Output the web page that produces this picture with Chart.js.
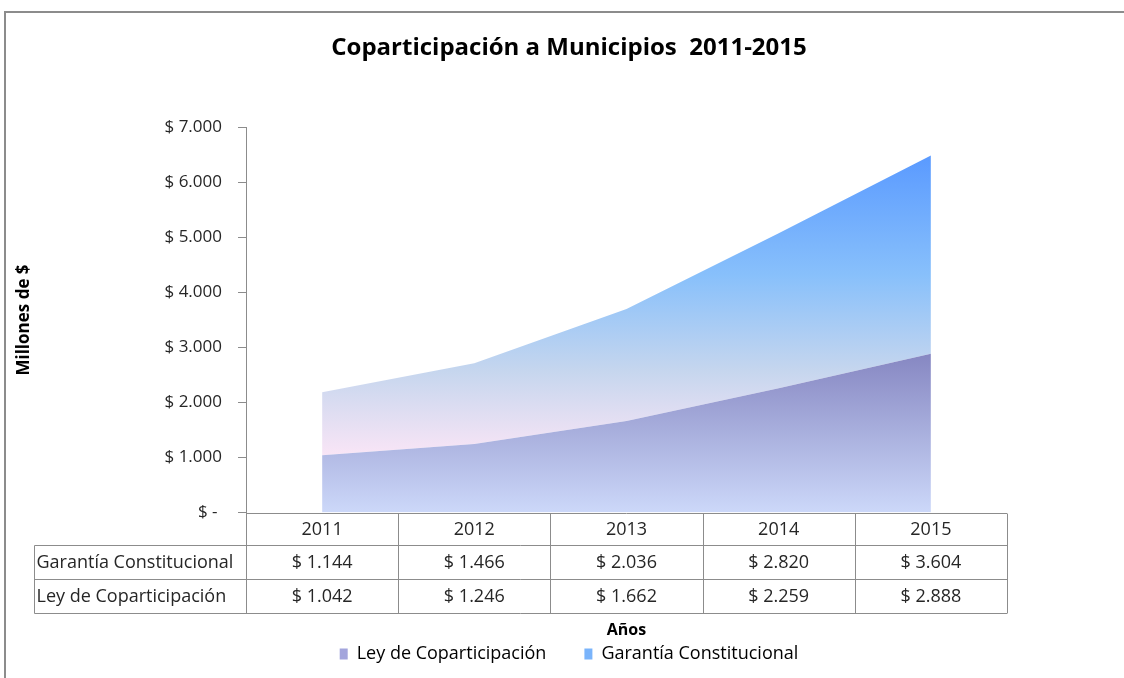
<!DOCTYPE html>
<html>
<head>
<meta charset="utf-8">
<title>Coparticipación a Municipios 2011-2015</title>
<script src="https://cdn.jsdelivr.net/npm/chart.js@4.4.1/dist/chart.umd.min.js"></script>
<style>
  html, body { margin: 0; padding: 0; background: #fff; }
  #wrap { width: 1124px; height: 678px; }
</style>
</head>
<body>
<div id="wrap"><canvas id="chart" width="1124" height="678"></canvas></div>
<script>
// datos (millones de $)
const years = ["2011", "2012", "2013", "2014", "2015"];
const leyCoparticipacion = [1042, 1246, 1662, 2259, 2888];
const garantiaConstitucional = [1144, 1466, 2036, 2820, 3604];
const yMax = 7000;
const yStep = 1000;

const GRID = "#8c8c8c";
const TEXT = "#262626";

// "$ 1.234"
const fmt = (v) => "$ " + String(v).replace(/\B(?=(\d{3})+(?!\d))/g, ".");

// degradados tipo Excel, calculados con la escala
const leyFill = (c) => {
  const { chart } = c;
  if (!chart.chartArea) return "#a3a5dc";
  const y = chart.scales.y;
  const g = chart.ctx.createLinearGradient(0, y.getPixelForValue(Math.max(...leyCoparticipacion)), 0, y.getPixelForValue(0));
  g.addColorStop(0, "#8687c2");
  g.addColorStop(1, "#ccd8f9");
  return g;
};

const garantiaFill = (c) => {
  const { chart } = c;
  if (!chart.chartArea) return "#7ab4fb";
  const y = chart.scales.y;
  const totals = leyCoparticipacion.map((v, i) => v + garantiaConstitucional[i]);
  const g = chart.ctx.createLinearGradient(0, y.getPixelForValue(Math.max(...totals)), 0, y.getPixelForValue(Math.min(...leyCoparticipacion)));
  g.addColorStop(0, "#5a9aff");
  g.addColorStop(0.4, "#88c0fb");
  g.addColorStop(0.72, "#c6d6ee");
  g.addColorStop(1, "#f9e5f6");
  return g;
};

// marco del grafico
const framePlugin = {
  id: "frame",
  beforeDraw(chart) {
    const ctx = chart.ctx;
    ctx.save();
    ctx.strokeStyle = GRID;
    ctx.lineWidth = 2;
    ctx.beginPath();
    ctx.moveTo(5, 700);
    ctx.lineTo(5, 12);
    ctx.lineTo(1130, 12);
    ctx.stroke();
    ctx.restore();
  }
};

// tabla de datos debajo del eje x
const tablePlugin = {
  id: "dataTable",
  afterDraw(chart) {
    const { ctx, chartArea } = chart;
    const x = chart.scales.x;
    const step = (x.right - x.left) / years.length;
    const top = Math.round(chartArea.bottom) + 0.5;
    const r = [top, top + 32, top + 66, top + 100];
    const labelLeft = 34.5;
    const rows = [
      { name: "Garantía Constitucional", values: garantiaConstitucional },
      { name: "Ley de Coparticipación", values: leyCoparticipacion }
    ];

    ctx.save();
    ctx.strokeStyle = GRID;
    ctx.lineWidth = 1;
    ctx.beginPath();
    ctx.moveTo(x.left, r[0]); ctx.lineTo(x.right, r[0]);
    for (let i = 1; i < r.length; i++) {
      ctx.moveTo(labelLeft, r[i]); ctx.lineTo(x.right, r[i]);
    }
    for (let i = 0; i <= years.length; i++) {
      const px = Math.round(x.left + i * step) + 0.5;
      ctx.moveTo(px, r[0]); ctx.lineTo(px, r[3]);
    }
    ctx.moveTo(labelLeft, r[1]); ctx.lineTo(labelLeft, r[3]);
    ctx.stroke();

    ctx.fillStyle = TEXT;
    ctx.font = "18px 'Open Sans', sans-serif";
    ctx.textBaseline = "middle";
    ctx.textAlign = "center";
    years.forEach((yr, i) => {
      ctx.fillText(yr, x.getPixelForValue(i), (r[0] + r[1]) / 2);
    });
    rows.forEach((row, k) => {
      const cy = (r[k + 1] + r[k + 2]) / 2;
      ctx.textAlign = "left";
      ctx.fillText(row.name, labelLeft + 2, cy);
      ctx.textAlign = "center";
      row.values.forEach((v, i) => ctx.fillText(fmt(v), x.getPixelForValue(i), cy));
    });
    ctx.restore();
  }
};

Chart.defaults.font.family = "'Open Sans', sans-serif";
Chart.defaults.color = TEXT;

new Chart(document.getElementById("chart"), {
  type: "line",
  data: {
    labels: years,
    datasets: [
      {
        label: "Ley de Coparticipación",
        data: leyCoparticipacion,
        fill: "origin",
        backgroundColor: leyFill,
        borderColor: "transparent",
        borderWidth: 0,
        pointRadius: 0,
        tension: 0
      },
      {
        label: "Garantía Constitucional",
        data: garantiaConstitucional,
        fill: "-1",
        backgroundColor: garantiaFill,
        borderColor: "transparent",
        borderWidth: 0,
        pointRadius: 0,
        tension: 0
      }
    ]
  },
  options: {
    responsive: false,
    animation: false,
    layout: { padding: { left: 14, right: 0, top: 0, bottom: 5 } },
    plugins: {
      title: {
        display: true,
        text: "Coparticipación a Municipios  2011-2015",
        color: "#000",
        font: { size: 24, weight: "bold" },
        padding: { top: 33.6, bottom: 65.1 }
      },
      legend: {
        position: "bottom",
        labels: {
          boxWidth: 8,
          boxHeight: 11,
          padding: 38,
          color: TEXT,
          font: { size: 18 },
          generateLabels: (chart) => chart.data.datasets.map((d, i) => ({
            text: d.label,
            fillStyle: i === 0 ? "#a3a5dc" : "#7ab4fb",
            strokeStyle: "transparent",
            lineWidth: 0,
            datasetIndex: i
          }))
        }
      },
      tooltip: { enabled: false }
    },
    scales: {
      x: {
        offset: true,
        grid: { display: false },
        border: { display: false },
        ticks: { display: false },
        title: {
          display: true,
          text: "Años",
          color: "#000",
          font: { size: 16, weight: "bold" },
          padding: { top: 0, bottom: -32.6 }
        },
        afterFit: (s) => { s.height = 94.5; }
      },
      y: {
        stacked: true,
        min: 0,
        max: yMax,
        ticks: {
          stepSize: yStep,
          padding: 16,
          color: TEXT,
          font: { size: 17 },
          callback: (v) => (v === 0 ? "$ - " : fmt(v))
        },
        grid: { drawOnChartArea: false, tickLength: 8, color: GRID },
        border: { color: GRID },
        title: {
          display: true,
          text: "Millones de $",
          color: "#000",
          font: { size: 17, weight: "bold" },
          padding: { top: 0, bottom: 0 }
        },
        afterFit: (s) => { s.width = 232; }
      },
      // solo reserva el margen derecho para que titulo y leyenda queden centrados
      spacer: {
        position: "right",
        display: true,
        grid: { display: false },
        border: { display: false },
        ticks: { display: false },
        afterFit: (s) => { s.width = 117; }
      }
    }
  },
  plugins: [framePlugin, tablePlugin]
});
</script>
</body>
</html>
